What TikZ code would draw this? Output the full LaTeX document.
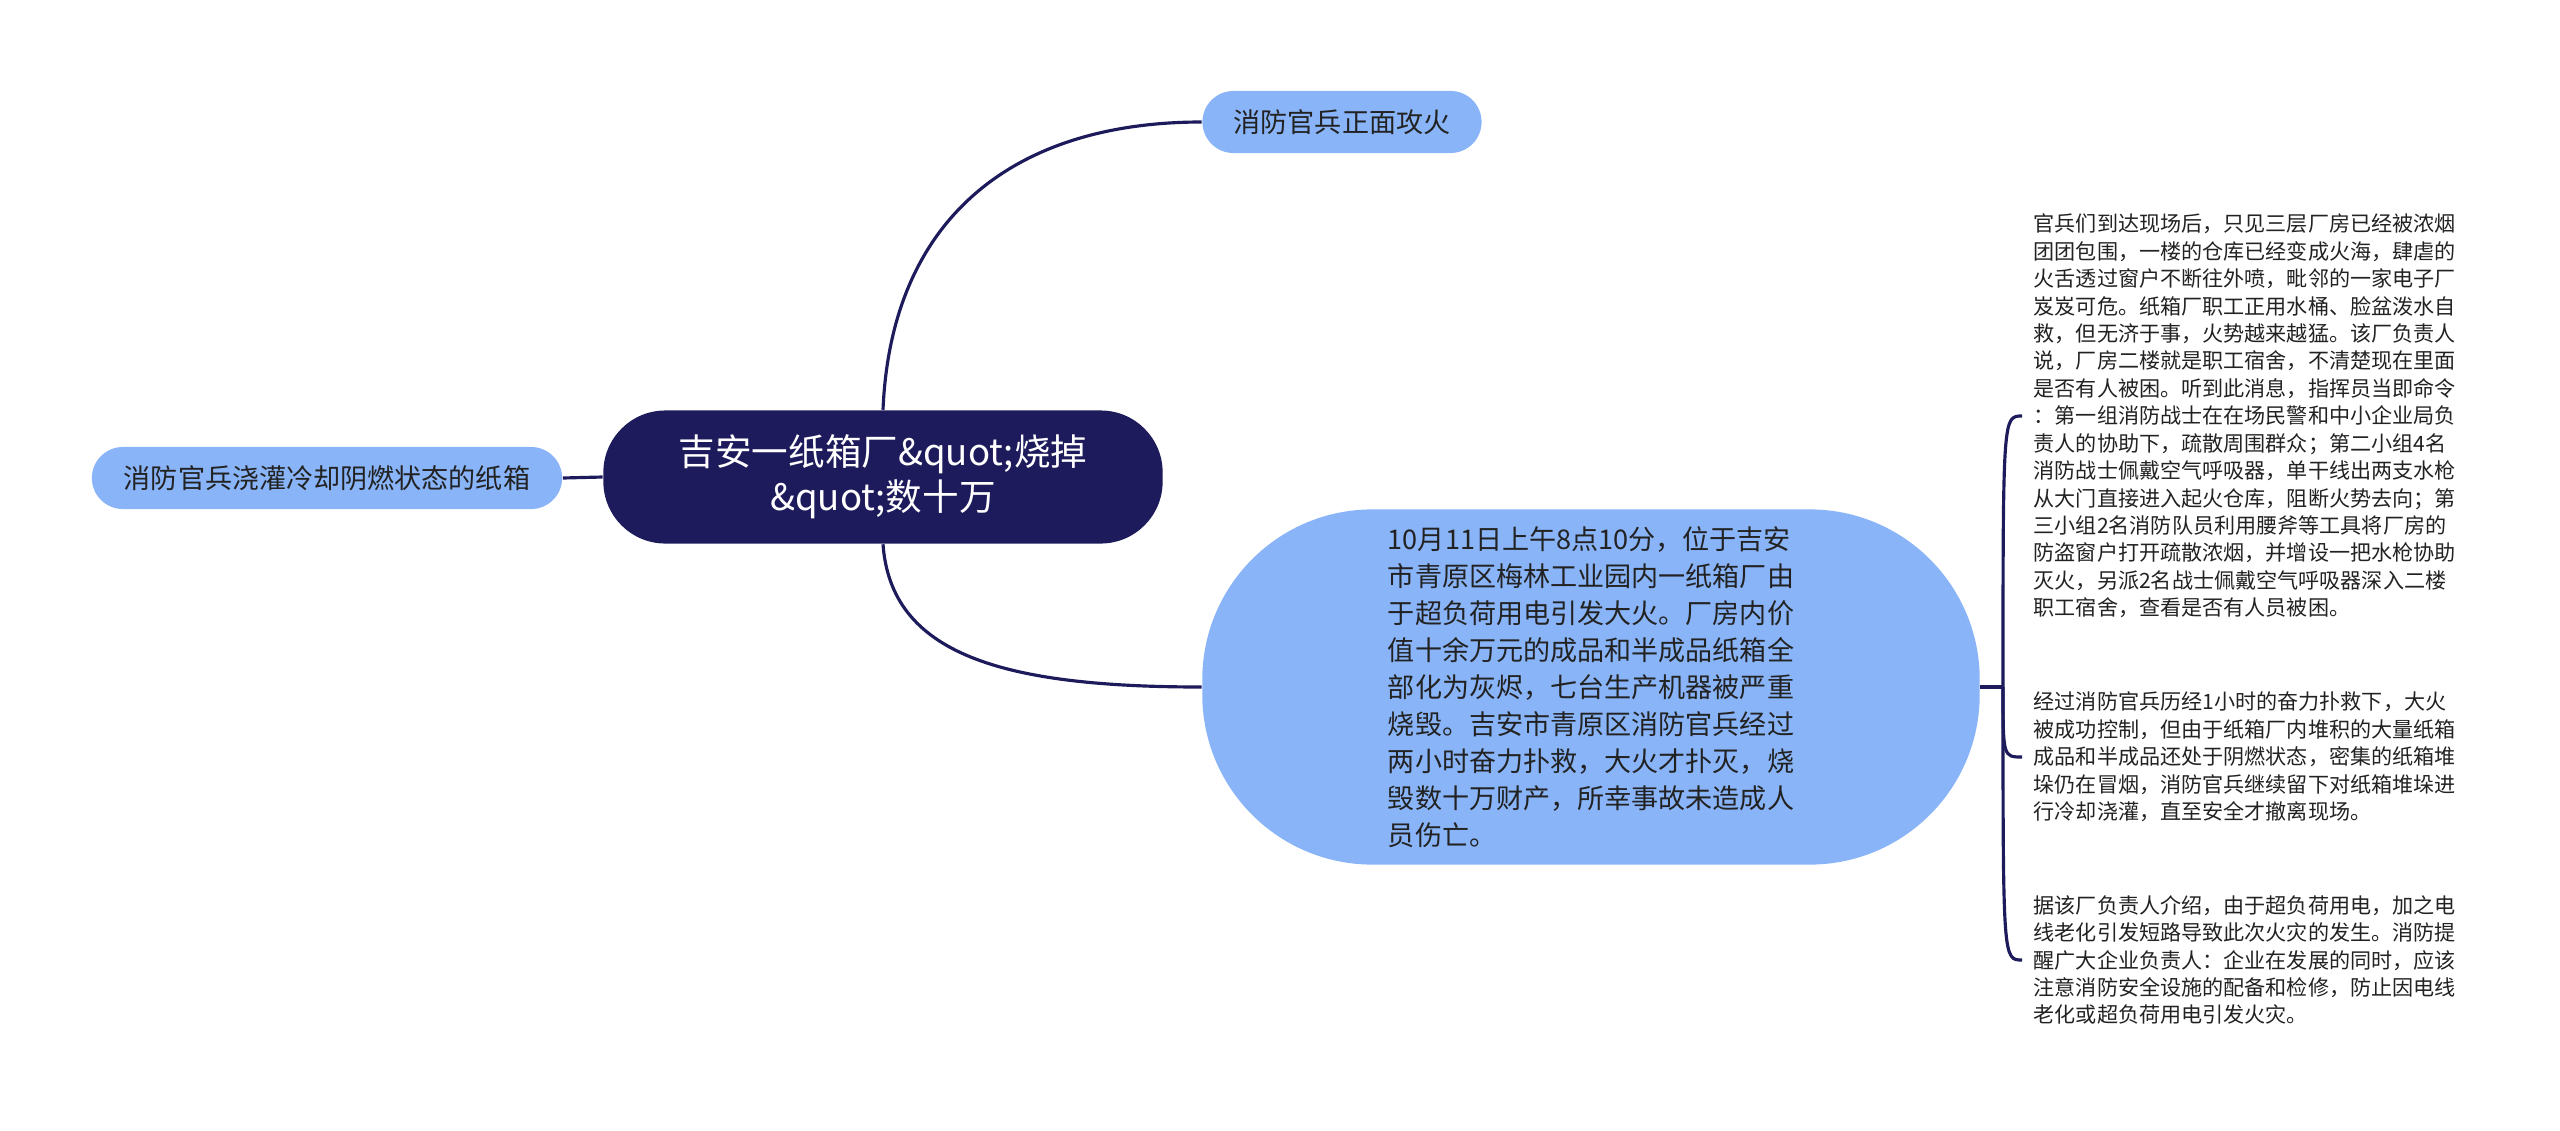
\documentclass[tikz,border=0pt]{standalone}
\usepackage{fontspec}
\setmainfont{Noto Sans CJK SC}
\usepackage{tikz}
\usetikzlibrary{positioning}
\definecolor{rootnavy}{RGB}{29,27,91}
\definecolor{leafblue}{RGB}{137,180,248}
\definecolor{inkgray}{RGB}{34,34,34}

\begin{document}
\begin{tikzpicture}[
x=0.01cm,y=-0.01cm,
rootbox/.style={fill=rootnavy, text=white, rounded corners=0.62cm, minimum width=5.59cm, minimum height=1.33cm, align=center, font=\fontsize{10.4}{12.8}\selectfont},
topic/.style={fill=leafblue, text=inkgray, rounded corners=0.31cm, minimum height=0.62cm, font=\fontsize{7.7}{9}\selectfont},
story/.style={fill=leafblue, text=inkgray, rounded corners=1.7cm, minimum width=7.77cm, minimum height=3.55cm, align=left, font=\fontsize{7.7}{10.5}\selectfont},
note/.style={anchor=west, inner xsep=0.11cm, inner ysep=0pt, text=inkgray, align=left, font=\fontsize{6}{7.8}\selectfont},
link/.style={draw=rootnavy, line width=0.9pt}
]
\useasboundingbox (0,0) rectangle (2560,1130);

\node[rootbox] (root) at (883,477) {吉安一纸箱厂\&quot;烧掉\\\&quot;数十万};
\node[topic, minimum width=4.70cm] (cool) at (327,478) {消防官兵浇灌冷却阴燃状态的纸箱};
\node[topic, minimum width=2.79cm] (front) at (1342,122) {消防官兵正面攻火};
\node[story] (fire) at (1591,687) {10月11日上午8点10分，位于吉安\\市青原区梅林工业园内一纸箱厂由\\于超负荷用电引发大火。厂房内价\\值十余万元的成品和半成品纸箱全\\部化为灰烬，七台生产机器被严重\\烧毁。吉安市青原区消防官兵经过\\两小时奋力扑救，大火才扑灭，烧\\毁数十万财产，所幸事故未造成人\\员伤亡。};

\coordinate (fork) at (2003,687);
\node[note] (scene) at (2022,416) {官兵们到达现场后，只见三层厂房已经被浓烟\\团团包围，一楼的仓库已经变成火海，肆虐的\\火舌透过窗户不断往外喷，毗邻的一家电子厂\\岌岌可危。纸箱厂职工正用水桶、脸盆泼水自\\救，但无济于事，火势越来越猛。该厂负责人\\说，厂房二楼就是职工宿舍，不清楚现在里面\\是否有人被困。听到此消息，指挥员当即命令\\：第一组消防战士在在场民警和中小企业局负\\责人的协助下，疏散周围群众；第二小组4名\\消防战士佩戴空气呼吸器，单干线出两支水枪\\从大门直接进入起火仓库，阻断火势去向；第\\三小组2名消防队员利用腰斧等工具将厂房的\\防盗窗户打开疏散浓烟，并增设一把水枪协助\\灭火，另派2名战士佩戴空气呼吸器深入二楼\\职工宿舍，查看是否有人员被困。};
\node[note] (smoke) at (2022,757) {经过消防官兵历经1小时的奋力扑救下，大火\\被成功控制，但由于纸箱厂内堆积的大量纸箱\\成品和半成品还处于阴燃状态，密集的纸箱堆\\垛仍在冒烟，消防官兵继续留下对纸箱堆垛进\\行冷却浇灌，直至安全才撤离现场。};
\node[note] (cause) at (2022,960) {据该厂负责人介绍，由于超负荷用电，加之电\\线老化引发短路导致此次火灾的发生。消防提\\醒广大企业负责人：企业在发展的同时，应该\\注意消防安全设施的配备和检修，防止因电线\\老化或超负荷用电引发火灾。};

% connectors
\draw[link] (root.west) -- (cool.east);
\draw[link] (root.north) .. controls +(8,-190) and +(-190,0) .. (front.west);
\draw[link] (root.south) .. controls +(8,110) and +(-200,0) .. (fire.west);
\draw[link] (fire.east) -- (fork);
\draw[link] (fork) .. controls (fork |- scene.west) .. (scene.west);
\draw[link] (fork) .. controls (fork |- smoke.west) .. (smoke.west);
\draw[link] (fork) .. controls (fork |- cause.west) .. (cause.west);
\end{tikzpicture}
\end{document}
